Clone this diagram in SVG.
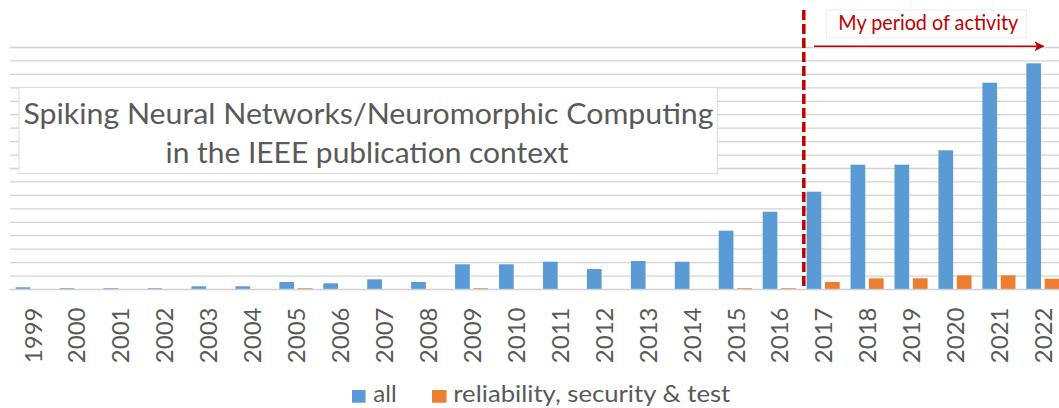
<svg xmlns="http://www.w3.org/2000/svg" width="1059" height="408" viewBox="0 0 1059 408">
  <style>
    .grid { stroke: #d4d4d4; stroke-width: 1.3; fill: none; }
    .axis { stroke: #d0d0d0; stroke-width: 1.3; fill: none; }
    .all { fill: #5b9bd5; }
    .rel { fill: #ed7d31; }
    .lbl { font-family: Lato, "Open Sans", sans-serif; font-size: 24px; fill: #595959; text-anchor: end; }
    .title { font-family: Lato, "Open Sans", sans-serif; font-size: 29px; fill: #595959; text-anchor: middle; }
    .leg { font-family: Lato, "Open Sans", sans-serif; font-size: 23px; fill: #595959; }
    .red { font-family: Lato, "Open Sans", sans-serif; font-size: 21px; fill: #c00000; }
  </style>
  <defs>
    <marker id="arrowHead" viewBox="0 0 10 10" refX="9" refY="5" markerWidth="10" markerHeight="10" markerUnits="userSpaceOnUse" orient="auto">
      <path d="M0,0 L10,5 L0,10 L2.5,5 Z" fill="#c00000"/>
    </marker>
  </defs>
  <rect width="1059" height="408" fill="#ffffff"/>

  <g id="gridlines">
    <path class="grid" d="M10,276.06H1059 M10,262.61H1059 M10,249.17H1059 M10,235.72H1059 M10,222.28H1059 M10,208.83H1059 M10,195.39H1059 M10,181.94H1059 M10,168.5H1059 M10,155.06H1059 M10,141.61H1059 M10,128.17H1059 M10,114.72H1059 M10,101.28H1059 M10,87.83H1059 M10,74.39H1059 M10,60.94H1059 M10,47.5H1059"/>
  </g>

  <g id="bars-all">
    <rect class="all" x="15.7" y="287.3" width="14.7" height="1.7"/>
    <rect class="all" x="59.64" y="288.2" width="14.7" height="0.8"/>
    <rect class="all" x="103.58" y="288.2" width="14.7" height="0.8"/>
    <rect class="all" x="147.52" y="288.2" width="14.7" height="0.8"/>
    <rect class="all" x="191.46" y="286.3" width="14.7" height="2.7"/>
    <rect class="all" x="235.4" y="286.3" width="14.7" height="2.7"/>
    <rect class="all" x="279.34" y="282" width="14.7" height="7"/>
    <rect class="all" x="323.28" y="283.3" width="14.7" height="5.7"/>
    <rect class="all" x="367.22" y="279.3" width="14.7" height="9.7"/>
    <rect class="all" x="411.16" y="282" width="14.7" height="7"/>
    <rect class="all" x="455.1" y="264.3" width="14.7" height="24.7"/>
    <rect class="all" x="499.04" y="264.3" width="14.7" height="24.7"/>
    <rect class="all" x="542.98" y="261.7" width="14.7" height="27.3"/>
    <rect class="all" x="586.92" y="269" width="14.7" height="20"/>
    <rect class="all" x="630.86" y="261" width="14.7" height="28"/>
    <rect class="all" x="674.8" y="261.7" width="14.7" height="27.3"/>
    <rect class="all" x="718.74" y="230.7" width="14.7" height="58.3"/>
    <rect class="all" x="762.68" y="211.7" width="14.7" height="77.3"/>
    <rect class="all" x="806.62" y="191.7" width="14.7" height="97.3"/>
    <rect class="all" x="850.56" y="164.7" width="14.7" height="124.3"/>
    <rect class="all" x="894.5" y="164.7" width="14.7" height="124.3"/>
    <rect class="all" x="938.44" y="150.3" width="14.7" height="138.7"/>
    <rect class="all" x="982.38" y="82.7" width="14.7" height="206.3"/>
    <rect class="all" x="1026.32" y="63.3" width="14.7" height="225.7"/>
  </g>

  <g id="bars-reliability">
    <rect class="rel" x="297.74" y="288.2" width="14.7" height="0.8"/>
    <rect class="rel" x="473.5" y="288.2" width="14.7" height="0.8"/>
    <rect class="rel" x="737.14" y="288.2" width="14.7" height="0.8"/>
    <rect class="rel" x="781.08" y="288.2" width="14.7" height="0.8"/>
    <rect class="rel" x="825.02" y="282" width="14.7" height="7"/>
    <rect class="rel" x="868.96" y="278.3" width="14.7" height="10.7"/>
    <rect class="rel" x="912.9" y="278.3" width="14.7" height="10.7"/>
    <rect class="rel" x="956.84" y="275.3" width="14.7" height="13.7"/>
    <rect class="rel" x="1000.78" y="275.3" width="14.7" height="13.7"/>
    <rect class="rel" x="1044.72" y="278.7" width="14.7" height="10.3"/>
  </g>

  <g id="axis">
    <path class="axis" d="M10,289.5H1059"/>
  </g>

  <g id="x-labels">
    <text class="lbl" transform="translate(41.5,307.5) rotate(-90)">1999</text>
    <text class="lbl" transform="translate(85.44,307.5) rotate(-90)">2000</text>
    <text class="lbl" transform="translate(129.38,307.5) rotate(-90)">2001</text>
    <text class="lbl" transform="translate(173.32,307.5) rotate(-90)">2002</text>
    <text class="lbl" transform="translate(217.26,307.5) rotate(-90)">2003</text>
    <text class="lbl" transform="translate(261.2,307.5) rotate(-90)">2004</text>
    <text class="lbl" transform="translate(305.14,307.5) rotate(-90)">2005</text>
    <text class="lbl" transform="translate(349.08,307.5) rotate(-90)">2006</text>
    <text class="lbl" transform="translate(393.02,307.5) rotate(-90)">2007</text>
    <text class="lbl" transform="translate(436.96,307.5) rotate(-90)">2008</text>
    <text class="lbl" transform="translate(480.9,307.5) rotate(-90)">2009</text>
    <text class="lbl" transform="translate(524.84,307.5) rotate(-90)">2010</text>
    <text class="lbl" transform="translate(568.78,307.5) rotate(-90)">2011</text>
    <text class="lbl" transform="translate(612.72,307.5) rotate(-90)">2012</text>
    <text class="lbl" transform="translate(656.66,307.5) rotate(-90)">2013</text>
    <text class="lbl" transform="translate(700.6,307.5) rotate(-90)">2014</text>
    <text class="lbl" transform="translate(744.54,307.5) rotate(-90)">2015</text>
    <text class="lbl" transform="translate(788.48,307.5) rotate(-90)">2016</text>
    <text class="lbl" transform="translate(832.42,307.5) rotate(-90)">2017</text>
    <text class="lbl" transform="translate(876.36,307.5) rotate(-90)">2018</text>
    <text class="lbl" transform="translate(920.3,307.5) rotate(-90)">2019</text>
    <text class="lbl" transform="translate(964.24,307.5) rotate(-90)">2020</text>
    <text class="lbl" transform="translate(1008.18,307.5) rotate(-90)">2021</text>
    <text class="lbl" transform="translate(1052.12,307.5) rotate(-90)">2022</text>
  </g>

  <g id="title-box">
    <rect x="19" y="87.5" width="698.3" height="86" fill="#ffffff" stroke="#d9d9d9" stroke-width="1"/>
    <text class="title" x="368.5" y="124" textLength="690" lengthAdjust="spacingAndGlyphs">Spiking Neural Networks/Neuromorphic Computing</text>
    <text class="title" x="367" y="163.3" textLength="403" lengthAdjust="spacingAndGlyphs">in the IEEE publication context</text>
  </g>

  <g id="period-marker">
    <line x1="803.8" y1="10" x2="803.8" y2="289.5" stroke="#c00000" stroke-width="3.5" stroke-dasharray="10,4"/>
  </g>

  <g id="period-label">
    <rect x="826.7" y="10" width="200" height="27.7" fill="#ffffff" stroke="#ececec" stroke-width="1"/>
    <text class="red" x="838.3" y="30" textLength="180" lengthAdjust="spacingAndGlyphs">My period of activity</text>
  </g>

  <g id="connectors">
    <line x1="814" y1="46.2" x2="1043.5" y2="46.2" stroke="#c00000" stroke-width="1.4" marker-end="url(#arrowHead)"/>
  </g>

  <g id="legend">
    <rect class="all" x="352" y="390" width="13.5" height="12.7"/>
    <text class="leg" x="373.3" y="401.7" textLength="23.4" lengthAdjust="spacingAndGlyphs">all</text>
    <rect class="rel" x="432" y="390" width="14.5" height="12.7"/>
    <text class="leg" x="453.3" y="401.7" textLength="277" lengthAdjust="spacingAndGlyphs">reliability, security &amp; test</text>
  </g>
</svg>
